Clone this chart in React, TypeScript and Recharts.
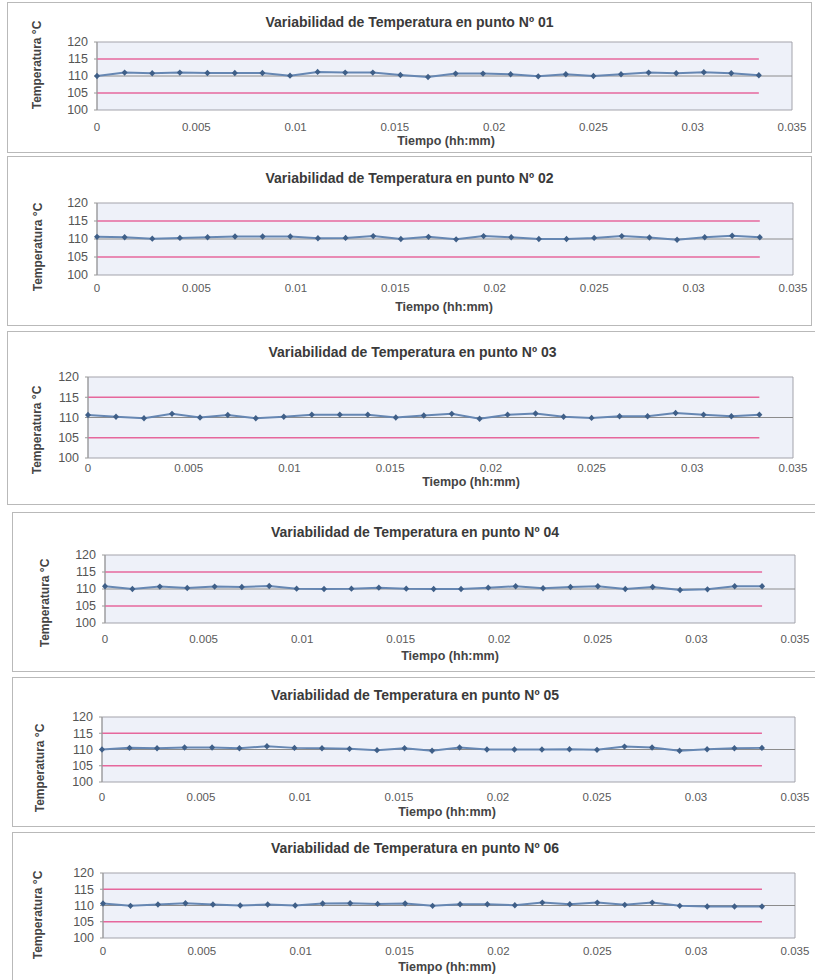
import React from 'react';
import {CartesianGrid, Label, Line, LineChart, ReferenceArea, ReferenceLine, XAxis, YAxis} from 'recharts';

// tiempo en fracción de día (una lectura cada 2 min)
const TIEMPO = [
  0, 0.00139, 0.00278, 0.00417, 0.00556, 0.00694, 0.00833, 0.00972, 0.01111, 0.0125, 0.01389, 0.01528,
  0.01667, 0.01806, 0.01944, 0.02083, 0.02222, 0.02361, 0.025, 0.02639, 0.02778, 0.02917, 0.03056,
  0.03194, 0.03333,
];

const TEMP_P01 = [
  110.0, 111.0, 110.8, 111.0, 110.9, 110.9, 110.9, 110.1, 111.2, 111.0, 111.0, 110.3, 109.7, 110.7, 110.7,
  110.5, 109.9, 110.5, 110.0, 110.5, 111.0, 110.8, 111.1, 110.8, 110.2,
];
const TEMP_P02 = [
  110.6, 110.5, 110.1, 110.3, 110.5, 110.7, 110.7, 110.7, 110.2, 110.3, 110.8, 110.0, 110.6, 109.9, 110.8,
  110.5, 110.0, 110.0, 110.3, 110.8, 110.4, 109.8, 110.5, 110.9, 110.5,
];
const TEMP_P03 = [
  110.6, 110.2, 109.8, 110.9, 110.0, 110.6, 109.8, 110.2, 110.7, 110.7, 110.7, 110.0, 110.5, 110.9, 109.7,
  110.7, 111.0, 110.2, 109.9, 110.3, 110.3, 111.1, 110.7, 110.3, 110.7,
];
const TEMP_P04 = [
  110.8, 110.0, 110.7, 110.3, 110.7, 110.6, 110.9, 110.1, 110.0, 110.1, 110.4, 110.1, 110.0, 110.0, 110.4,
  110.8, 110.2, 110.6, 110.8, 110.0, 110.6, 109.7, 109.9, 110.8, 110.8,
];
const TEMP_P05 = [
  110.0, 110.5, 110.4, 110.6, 110.6, 110.4, 111.0, 110.5, 110.4, 110.2, 109.8, 110.4, 109.6, 110.6, 110.0,
  110.0, 110.0, 110.1, 109.9, 110.9, 110.6, 109.6, 110.1, 110.4, 110.5,
];
const TEMP_P06 = [
  110.6, 109.9, 110.3, 110.7, 110.3, 110.0, 110.3, 110.0, 110.6, 110.7, 110.5, 110.6, 109.9, 110.4, 110.4,
  110.1, 110.9, 110.4, 110.9, 110.2, 110.9, 109.9, 109.7, 109.7, 109.7,
];

const PUNTOS = ['01', '02', '03', '04', '05', '06'];
const SERIES = [TEMP_P01, TEMP_P02, TEMP_P03, TEMP_P04, TEMP_P05, TEMP_P06];

const LIMITE_SUPERIOR = 115;
const LIMITE_INFERIOR = 105;
const VALOR_OBJETIVO = 110;

const X_TICKS = [0, 0.005, 0.01, 0.015, 0.02, 0.025, 0.03, 0.035];
const X_TICK_LABELS = ['0', '0.005', '0.01', '0.015', '0.02', '0.025', '0.03', '0.035'];
const Y_TICKS = [100, 105, 110, 115, 120];

const FONT = '"Liberation Sans", Arial, sans-serif';

type Layout = {
  box: number[]; // left, top, right, bottom
  plot: number[];
  titleY: number;
  tickMargin: number;
  xTitle: number[];
  yTitle: number[];
};

// posiciones de cada panel en la página
const LAYOUTS: Layout[] = [
  {box: [7, 2, 812, 153], plot: [97, 42, 792, 110], titleY: 22, tickMargin: 13, xTitle: [446, 141], yTitle: [37, 65]},
  {box: [7, 156, 812, 326], plot: [97, 203, 793, 275], titleY: 178, tickMargin: 9, xTitle: [444, 307], yTitle: [38, 247]},
  {box: [7, 331, 818, 505], plot: [88, 377, 793, 458], titleY: 352, tickMargin: 6, xTitle: [471, 482], yTitle: [37, 430]},
  {box: [12, 512, 818, 672], plot: [105, 555, 795, 623], titleY: 532, tickMargin: 12, xTitle: [450, 656], yTitle: [45, 603]},
  {box: [12, 677, 818, 827], plot: [102, 717, 795, 782], titleY: 695, tickMargin: 11, xTitle: [447, 812], yTitle: [40, 768]},
  {box: [12, 832, 818, 995], plot: [103, 873, 795, 938], titleY: 848, tickMargin: 9, xTitle: [447, 967], yTitle: [38, 915]},
];

const Rombo = (props: any) => {
  const {cx, cy} = props;
  if (cx == null || cy == null) return null;
  return <path d={`M${cx},${cy - 3.2}L${cx + 3},${cy}L${cx},${cy + 3.2}L${cx - 3},${cy}Z`} fill="#3f5f88" />;
};

function Panel({punto, temps, layout}: {punto: string; temps: number[]; layout: Layout}) {
  const [bl, bt, br, bb] = layout.box;
  const [pl, pt, pr, pb] = layout.plot;
  const w = br - bl;
  const h = bb - bt;
  const data = TIEMPO.map((t, i) => ({t, temp: temps[i], sup: LIMITE_SUPERIOR, inf: LIMITE_INFERIOR}));
  const ytx = layout.yTitle[0] - bl;
  const yty = layout.yTitle[1] - bt;

  return (
    <div
      style={{
        position: 'absolute',
        left: bl,
        top: bt,
        width: w - 2,
        height: h - 2,
        border: '1px solid #b9b9b9',
        background: '#fff',
        overflow: 'hidden',
      }}
    >
      <div
        style={{
          position: 'absolute',
          left: -1,
          width: w,
          top: layout.titleY - bt - 9,
          textAlign: 'center',
          font: `bold 14px ${FONT}`,
          color: '#3a3a3a',
          whiteSpace: 'nowrap',
        }}
      >
        Variabilidad de Temperatura en punto Nº {punto}
      </div>
      <div style={{position: 'absolute', left: -1, top: -1}}>
        <LineChart width={w} height={h} data={data} margin={{top: pt - bt, right: br - pr, bottom: 0, left: 0}}>
          <CartesianGrid horizontal={false} vertical={false} fill="#eef1f9" fillOpacity={1} />
          <XAxis
            dataKey="t"
            type="number"
            domain={[0, 0.035]}
            ticks={X_TICKS}
            interval={0}
            tickFormatter={(v: number) => X_TICK_LABELS[X_TICKS.indexOf(v)] ?? String(v)}
            height={bb - pb}
            axisLine={false}
            tickLine={false}
            tickSize={0}
            tickMargin={layout.tickMargin}
            tick={{fill: '#5a5a5a', fontSize: 11.5, fontFamily: FONT}}
          >
            <Label
              content={() => (
                <text
                  x={layout.xTitle[0] - bl}
                  y={layout.xTitle[1] - bt}
                  textAnchor="middle"
                  dominantBaseline="central"
                  fontFamily={FONT}
                  fontSize={12.5}
                  fontWeight="bold"
                  fill="#444"
                >
                  Tiempo (hh:mm)
                </text>
              )}
            />
          </XAxis>
          <YAxis
            type="number"
            domain={[100, 120]}
            ticks={Y_TICKS}
            interval={0}
            width={pl - bl}
            axisLine={{stroke: '#9a9a9a'}}
            tickLine={{stroke: '#9a9a9a'}}
            tickSize={3}
            tickMargin={6}
            tick={{fill: '#555', fontSize: 12.5, fontFamily: FONT}}
          >
            <Label
              content={() => (
                <text
                  x={ytx}
                  y={yty}
                  transform={`rotate(-90 ${ytx} ${yty})`}
                  textAnchor="middle"
                  dominantBaseline="central"
                  fontFamily={FONT}
                  fontSize={12}
                  fontWeight="bold"
                  fill="#444"
                >
                  Temperatura °C
                </text>
              )}
            />
          </YAxis>
          <ReferenceArea x1={0} x2={0.035} y1={100} y2={120} fill="none" stroke="#a3a3ab" strokeWidth={1} />
          <ReferenceLine y={VALOR_OBJETIVO} stroke="#8c8c8c" strokeWidth={1} />
          <Line dataKey="sup" stroke="#e6679c" strokeWidth={1.6} dot={false} isAnimationActive={false} />
          <Line dataKey="inf" stroke="#e6679c" strokeWidth={1.6} dot={false} isAnimationActive={false} />
          <Line
            dataKey="temp"
            stroke="#6687b3"
            strokeWidth={2}
            dot={<Rombo />}
            activeDot={false}
            isAnimationActive={false}
          />
        </LineChart>
      </div>
    </div>
  );
}

export default function App() {
  return (
    <div
      style={{
        position: 'absolute',
        left: 0,
        top: 0,
        width: 815,
        height: 980,
        background: '#fff',
        overflow: 'hidden',
        fontFamily: FONT,
      }}
    >
      {PUNTOS.map((p, i) => (
        <Panel key={p} punto={p} temps={SERIES[i]} layout={LAYOUTS[i]} />
      ))}
    </div>
  );
}
